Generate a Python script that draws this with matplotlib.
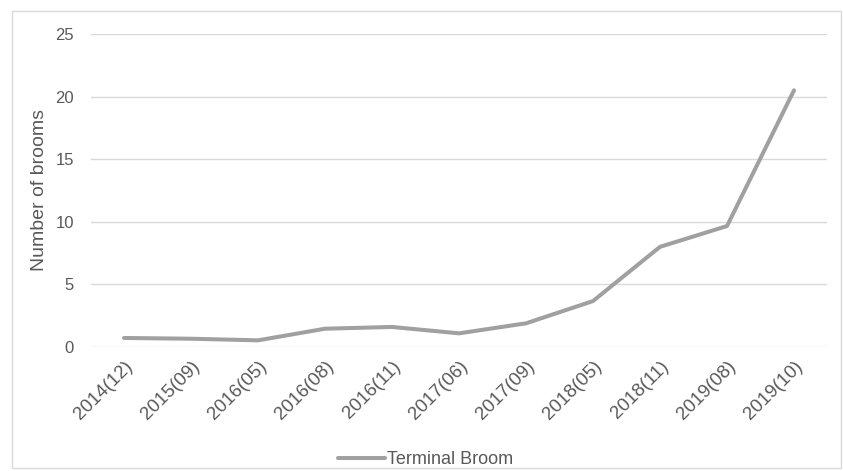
import matplotlib
matplotlib.use("Agg")
import matplotlib.pyplot as plt
from matplotlib.patches import Rectangle

plt.rcParams['font.family'] = ['Liberation Sans', 'DejaVu Sans']

dates = ['2014(12)', '2015(09)', '2016(05)', '2016(08)', '2016(11)', '2017(06)',
         '2017(09)', '2018(05)', '2018(11)', '2019(08)', '2019(10)']
brooms = [0.72, 0.66, 0.53, 1.46, 1.6, 1.09, 1.89, 3.67, 8.0, 9.66, 20.5]
yticks = [0, 5, 10, 15, 20, 25]

text_col = '#595959'
line_col = '#a0a0a0'

fig = plt.figure(figsize=(8.43, 4.71), dpi=100)
fig.patches.append(Rectangle((12 / 843, 1 - 468 / 471), 829 / 843, 457 / 471,
                             transform=fig.transFigure, fill=False,
                             edgecolor='#d9d9d9', linewidth=1))
ax = fig.add_axes([0.1074, 0.2633, 0.8742, 0.6645])

x = range(len(dates))
ax.plot(x, brooms, color=line_col, linewidth=2.9, solid_capstyle='round',
        solid_joinstyle='round', label='Terminal Broom')

ax.set_xlim(-0.5, len(dates) - 0.5)
ax.set_ylim(0, 25)
ax.set_yticks(yticks)
ax.set_yticklabels([str(v) for v in yticks], fontsize=12, color=text_col)
ax.set_xticks(list(x))
ax.set_xticklabels(dates, rotation=45, ha='right', va='top', rotation_mode='anchor',
                   fontsize=13.5, color=text_col)
ax.tick_params(axis='both', length=0)
ax.tick_params(axis='y', pad=12)
ax.tick_params(axis='x', pad=8)
ax.grid(axis='y', color='#d9d9d9', linewidth=1)
ax.set_axisbelow(True)
for s in ax.spines.values():
    s.set_visible(False)
ax.set_ylabel('Number of brooms', fontsize=14, color=text_col, labelpad=5)

leg = fig.legend(loc='center', bbox_to_anchor=(0.505, 1 - 460 / 471), frameon=False,
                 fontsize=13, handlelength=2.6, handletextpad=0.1)
for t in leg.get_texts():
    t.set_color(text_col)

fig.savefig('out.png', dpi=100)
